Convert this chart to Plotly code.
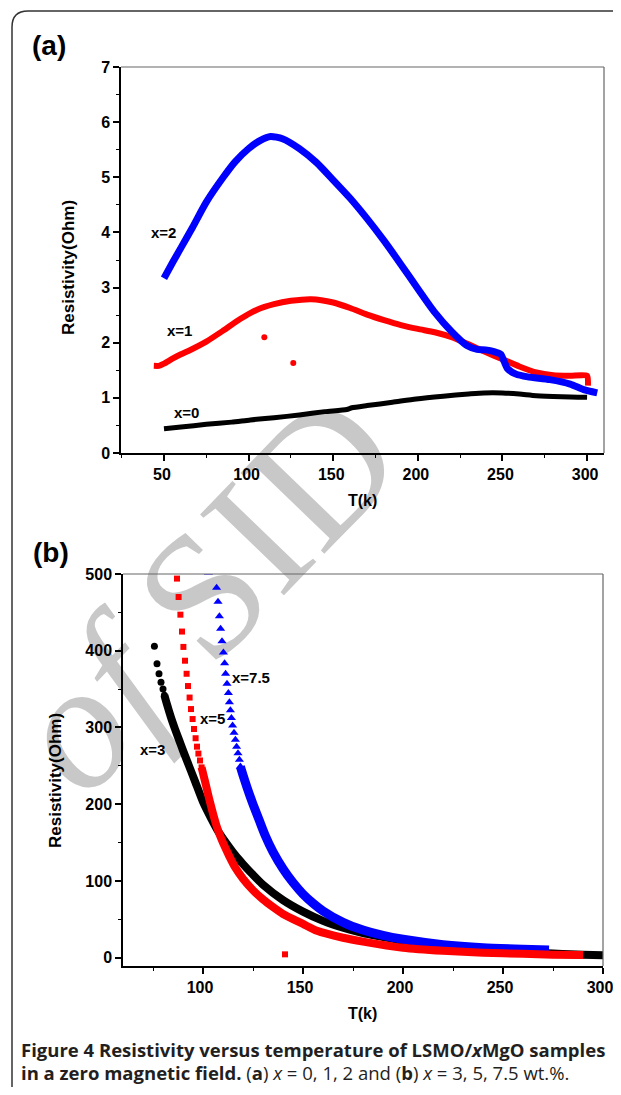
import plotly.graph_objects as go

# ---------------- Panel (a): x = 0, 1, 2 ----------------
T_a0 = [50, 60, 75, 90, 101, 115, 130, 145, 158, 161, 170, 185, 199, 215, 230, 239, 250, 260, 270, 285, 300]
R_a0 = [0.44, 0.47, 0.52, 0.56, 0.60, 0.64, 0.69, 0.75, 0.79, 0.82, 0.86, 0.92, 0.98, 1.03, 1.07, 1.09, 1.09, 1.07, 1.04, 1.02, 1.01]

T_a1 = [44, 47, 50, 55, 60, 65, 75, 85, 95, 105, 115, 125, 137, 150, 160, 170, 180, 190, 200, 210,
        220, 230, 240, 250, 260, 270, 280, 290, 300, 300.5]
R_a1 = [1.58, 1.58, 1.62, 1.71, 1.79, 1.86, 2.02, 2.22, 2.43, 2.60, 2.70, 2.76, 2.79, 2.73, 2.63, 2.51,
        2.41, 2.32, 2.25, 2.19, 2.10, 1.97, 1.83, 1.70, 1.57, 1.46, 1.41, 1.40, 1.40, 1.22]
T_a1_out = [109.3, 126.4]
R_a1_out = [2.10, 1.63]

T_a2 = [50, 55, 60, 67, 75, 85, 92, 100, 107, 113, 120, 130, 140, 150, 160, 170, 180, 190, 200, 210,
        220, 229, 235, 240, 245, 249, 251, 253, 258, 265, 278, 290, 298, 306]
R_a2 = [3.17, 3.45, 3.72, 4.10, 4.55, 5.00, 5.28, 5.52, 5.67, 5.74, 5.70, 5.52, 5.27, 4.95, 4.62, 4.25,
        3.85, 3.42, 2.98, 2.55, 2.20, 1.95, 1.88, 1.87, 1.84, 1.79, 1.66, 1.53, 1.43, 1.38, 1.33, 1.25, 1.15, 1.09]

# ---------------- Panel (b): x = 3, 5, 7.5 ----------------
T_b3_pts = [75.7, 77, 78, 79, 80, 80.7]
R_b3_pts = [406, 383, 370, 359, 350, 342]
T_b3 = [80.7, 82, 84, 86, 88, 90, 93, 96, 100, 104, 108, 112, 116, 120, 125, 130, 140, 150, 160, 170,
        180, 190, 200, 215, 230, 250, 270, 290, 303]
R_b3 = [342, 330, 313, 298, 284, 270, 250, 230, 203, 182, 163, 148, 134, 122, 108, 95, 75, 60, 48, 39,
        32, 27, 22, 17, 13, 9, 6, 4, 3]

T_b5_pts = [87, 87.8, 88.7, 89.5, 90.2, 91, 91.8, 92.5, 93.3, 94, 94.8, 95.5, 96.3, 97, 97.7, 98.5, 99.3]
R_b5_pts = [494, 470, 447, 425, 405, 387, 370, 354, 339, 324, 311, 298, 286, 275, 266, 257, 248]
T_b5 = [99.3, 101, 103, 105, 107, 109, 111, 113, 116, 120, 125, 130, 135, 140, 150, 157, 170, 180, 200,
        220, 240, 260, 275, 290]
R_b5 = [248, 230, 208, 188, 170, 156, 144, 133, 118, 103, 88, 76, 66, 57, 44, 35, 26, 21, 13, 9, 6.5, 5, 4, 3.5]
T_b5_out = [141]
R_b5_out = [4.4]

T_b75_pts = [102.7, 106.8, 107.5, 108.2, 108.8, 109.5, 110.2, 110.8, 111.3, 112, 112.7, 113.2, 113.7,
             114.2, 114.8, 115.5, 116.2, 116.8, 117.5, 118.2, 118.7]
R_b75_pts = [502, 482, 464, 445, 428.5, 412.5, 397.7, 383.8, 370, 357, 345, 333, 322.5, 312.5, 302.5,
             293, 284, 275, 266.5, 258, 249]
T_b75 = [118.7, 120, 122, 125, 128, 131, 135, 140, 145, 150, 155, 160, 170, 180, 190, 200, 220, 240, 260, 273]
R_b75 = [249, 238, 222, 200, 180, 160, 138, 116, 98, 83, 71, 61, 46, 36, 29, 24, 17, 13, 11, 10]

BLACK, RED, BLUE = "#000000", "#ff0000", "#0000ff"
OFF = 8                            # page body margin
W, H = 621 - OFF, 1095 - 2 * OFF   # figure size (fits the window without scrollbars)


def X(px):
    return (px - OFF) / W


def Y(py):
    return 1 - (py - OFF) / H


fig = go.Figure()

# panel (a)
fig.add_trace(go.Scatter(x=T_a0, y=R_a0, mode="lines", line=dict(color=BLACK, width=5, shape="spline", smoothing=0.6),
                         xaxis="x", yaxis="y"))
fig.add_trace(go.Scatter(x=T_a1, y=R_a1, mode="lines", line=dict(color=RED, width=6, shape="spline", smoothing=0.6),
                         xaxis="x", yaxis="y"))
fig.add_trace(go.Scatter(x=T_a1_out, y=R_a1_out, mode="markers", marker=dict(color=RED, size=6, symbol="circle"),
                         xaxis="x", yaxis="y"))
fig.add_trace(go.Scatter(x=T_a2, y=R_a2, mode="lines", line=dict(color=BLUE, width=7, shape="spline", smoothing=0.6),
                         xaxis="x", yaxis="y"))

# panel (b)
fig.add_trace(go.Scatter(x=T_b3, y=R_b3, mode="lines", line=dict(color=BLACK, width=8, shape="spline", smoothing=0.6),
                         xaxis="x2", yaxis="y2"))
fig.add_trace(go.Scatter(x=T_b3_pts, y=R_b3_pts, mode="markers", marker=dict(color=BLACK, size=7, symbol="circle"),
                         xaxis="x2", yaxis="y2"))
fig.add_trace(go.Scatter(x=T_b75, y=R_b75, mode="lines", line=dict(color=BLUE, width=9, shape="spline", smoothing=0.6),
                         xaxis="x2", yaxis="y2"))
fig.add_trace(go.Scatter(x=T_b75_pts, y=R_b75_pts, mode="markers",
                         marker=dict(color=BLUE, size=8, symbol="triangle-up"), xaxis="x2", yaxis="y2"))
fig.add_trace(go.Scatter(x=T_b5, y=R_b5, mode="lines", line=dict(color=RED, width=8, shape="spline", smoothing=0.6),
                         xaxis="x2", yaxis="y2"))
fig.add_trace(go.Scatter(x=T_b5_pts, y=R_b5_pts, mode="markers", marker=dict(color=RED, size=6, symbol="square"),
                         xaxis="x2", yaxis="y2"))
fig.add_trace(go.Scatter(x=T_b5_out, y=R_b5_out, mode="markers", marker=dict(color=RED, size=6, symbol="square"),
                         xaxis="x2", yaxis="y2"))

tickfont = dict(family="Liberation Sans", size=16, color="black", weight="bold")


def ax(domain, rng, dtick, mdtick, anchor, shift=0):
    return dict(domain=domain, range=rng, dtick=dtick, tick0=0, showline=True, linecolor="black", linewidth=1.5,
                mirror=False, ticks="outside", ticklen=6, tickwidth=1.5, tickcolor="black", automargin=False,
                minor=dict(ticks="outside", ticklen=3, tickwidth=1.2, tickcolor="black", dtick=mdtick, tick0=0),
                showgrid=False, zeroline=False, tickfont=tickfont, anchor=anchor, fixedrange=True,
                ticklabelshift=shift)


xa = ax([X(121), X(604)], [24.6, 310], 50, 25, "y", -2)
ya = ax([Y(453), Y(67)], [0, 7], 1, 0.5, "x")
xb = ax([X(123), X(603)], [60, 300], 50, 25, "y2", -3)
yb = ax([Y(966), Y(574)], [-10.8, 500], 100, 50, "x2")

shapes = []
# watermark (behind data)
shapes.append(dict(type="rect", xref="paper", yref="paper", x0=X(188), x1=X(192), y0=Y(581), y1=Y(577),
                   line=dict(width=0), fillcolor="rgba(0,0,0,0)", layer="below",
                   label=dict(text="<i>of</i> SID", textangle=-46, textposition="middle center",
                              font=dict(family="Liberation Serif", size=178, color="#c8c8c8"))))
# top/right frame lines of each panel
for xr, yr in (("x", "y"), ("x2", "y2")):
    shapes.append(dict(type="line", xref=xr + " domain", yref=yr + " domain", x0=0, x1=1, y0=1, y1=1,
                       line=dict(color="#666666", width=1.2)))
    shapes.append(dict(type="line", xref=xr + " domain", yref=yr + " domain", x0=1, x1=1, y0=0, y1=1,
                       line=dict(color="#666666", width=1.2)))
# outer rounded frame (its bottom edge lies below the visible page)
rx, ry = 16 / W, 16 / H
L, T = X(12), Y(11)
path = f"M 1.05,{T} L {L + rx},{T} Q {L},{T} {L},{T - ry} L {L},-0.01"
shapes.append(dict(type="path", xref="paper", yref="paper", path=path, line=dict(color="#333333", width=1.5)))

ann = []
lab = dict(family="Liberation Sans", size=15, color="black", weight="bold")
for x, y, t, xr, yr in [(50, 3.99, "x=2", "x", "y"), (59.2, 2.23, "x=1", "x", "y"), (63.3, 0.74, "x=0", "x", "y"),
                        (74.75, 271, "x=3", "x2", "y2"), (104.8, 312, "x=5", "x2", "y2"),
                        (123.9, 365, "x=7.5", "x2", "y2")]:
    ann.append(dict(x=x, y=y, xref=xr, yref=yr, text=t, showarrow=False, font=lab,
                    xanchor="center", yanchor="middle"))


def pann(px, py, text, font, angle=0, xanchor="center", yanchor="middle"):
    return dict(x=X(px), y=Y(py), xref="paper", yref="paper", text=text, textangle=angle, showarrow=False,
                font=font, xanchor=xanchor, yanchor=yanchor)


ttl = dict(family="Liberation Sans", size=17, color="black", weight="bold")
ann.append(pann(68, 268, "Resistivity(Ohm)", ttl, -90))
ann.append(pann(55, 781, "Resistivity(Ohm)", ttl, -90))
ttl2 = dict(family="Liberation Sans", size=16, color="black", weight="bold")
ann.append(pann(362, 500, "T(k)", ttl2))
ann.append(pann(362, 1013, "T(k)", ttl2))
pl = dict(family="Liberation Sans", size=28, color="black", weight="bold")
ann.append(pann(49, 45, "(a)", pl))
ann.append(pann(51, 552, "(b)", pl))

cap = dict(family="Open Sans", size=18.5, color="#231f20")
ann.append(pann(19, 1049, "<b>Figure 4 Resistivity versus temperature of LSMO/<i>x</i>MgO samples</b>", cap,
                xanchor="left"))
ann.append(pann(19, 1086.5, "<b>in a zero magnetic field.</b> (<b>a</b>) <i>x</i> = 0, 1, 2 and (<b>b</b>) "
                            "<i>x</i> = 3, 5, 7.5 wt.%.", cap, xanchor="left", yanchor="bottom"))

fig.update_layout(width=W, height=H, margin=dict(l=0, r=0, t=0, b=0, autoexpand=False), showlegend=False,
                  paper_bgcolor="white", plot_bgcolor="rgba(0,0,0,0)",
                  xaxis=xa, yaxis=ya, xaxis2=xb, yaxis2=yb, shapes=shapes, annotations=ann)

fig.write_html("out.html")
